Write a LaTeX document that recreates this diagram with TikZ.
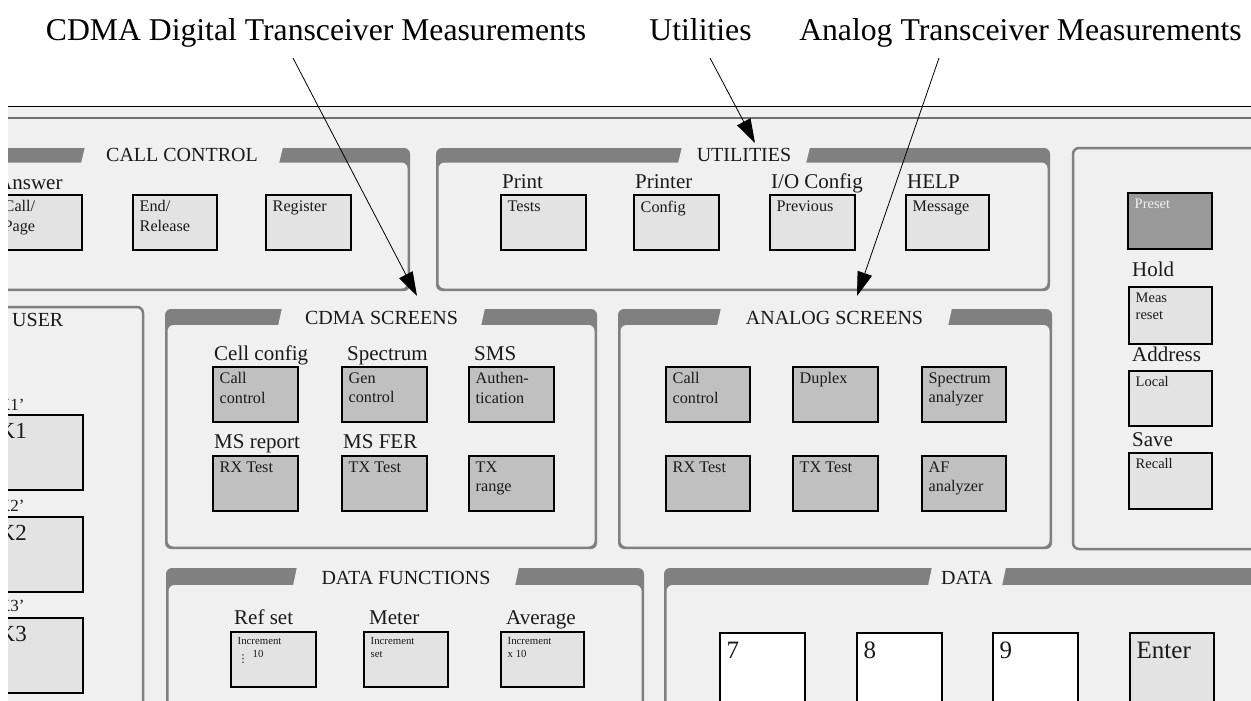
\documentclass[tikz,border=0pt]{standalone}
\usepackage{fontspec}
\setmainfont{Liberation Serif}
\newfontfamily\dejavu{DejaVu Sans}
\usetikzlibrary{arrows.meta}
\definecolor{bg}{HTML}{F0F0F0}
\definecolor{edge}{HTML}{808080}
\definecolor{rule2}{HTML}{707070}
\definecolor{keylt}{HTML}{E3E3E3}
\definecolor{keymd}{HTML}{C0C0C0}
\definecolor{keydk}{HTML}{999999}
\definecolor{ink}{HTML}{1A1A1A}
\newcommand\fTop{\fontsize{31.7}{36}\selectfont}
\newcommand\fTitle{\fontsize{20}{24}\selectfont}
\newcommand\fLab{\fontsize{21}{25}\selectfont}
\newcommand\fKey{\fontsize{16.2}{19.5}\selectfont}
\newcommand\fSm{\fontsize{14.5}{17}\selectfont}
\newcommand\fTiny{\fontsize{10.8}{13}\selectfont}
\newcommand\fBig{\fontsize{25}{30}\selectfont}
\newcommand\fKk{\fontsize{23}{27}\selectfont}
\newcommand\fKs{\fontsize{17}{20}\selectfont}
% key box: name, x, y, w, h, box style, text style, text
\newcommand\kbox[8]{%
  \node[keyframe, minimum width=#4pt, minimum height=#5pt, anchor=north west, #6] (#1) at (#2,#3) {};
  \node[keytext, #7] (#1t) at ([xshift=6.5pt,yshift=-5.5pt]#1.north west) {#8};
}
% tabbed panel: name, x1, x2, top, tabbottom, bottom, gapL, gapR, title
\newcommand\tabpanel[9]{%
  \fill[edge, rounded corners=6pt] (#2,#4) rectangle (#3,#6);
  \fill[bg, rounded corners=6pt] ({#2+2.5},#5) rectangle ({#3-2.5},{#6-2.5});
  \fill[bg] ({#7+2},{#4-1}) -- ({#8+2},{#4-1}) -- ({#8-2},{#5+1}) -- ({#7-2},{#5+1}) -- cycle;
  \node[ttl] (#1) at ({(#7+#8)/2},{#5-1}) {#9};
}
\tikzset{
  keyframe/.style={draw=black, line width=2.2pt, inner sep=0pt, outer sep=0pt, fill=keylt},
  keytext/.style={anchor=north west, inner sep=0pt, align=left, text=ink, font=\fKey},
  ttl/.style={anchor=base, inner sep=0pt, font=\fTitle, text=ink},
  lab/.style={anchor=base west, inner sep=0pt, font=\fLab, text=ink},
  toplab/.style={anchor=base, inner sep=0pt, font=\fTop, text=black},
  ptr/.style={draw=black, line width=0.8pt, -{Triangle[length=24pt,width=15pt]}},
  pline/.style={draw=edge, line width=2.5pt, rounded corners=6pt}
}
\begin{document}
\begin{tikzpicture}[x=1pt,y=-1pt]
\useasboundingbox (0,0) rectangle (1251,701);
\fill[white] (0,0) rectangle (1251,701);
% front panel background
\fill[bg] (8,106) rectangle (1251,701);
\begin{scope}
\clip (8,106) rectangle (1251,701);
% ---------- CALL CONTROL ----------
\tabpanel{tcall}{-30}{410}{148}{162.5}{291}{83}{281}{CALL CONTROL}
\node[lab] (lanswer) at (-3,189) {Answer};
\kbox{ccall}{-3}{195}{85}{55}{}{}{Call/\\Page}
\kbox{cend}{133}{195}{84}{55}{}{}{End/\\Release}
\kbox{creg}{266}{195}{85}{55}{}{}{Register}
% ---------- UTILITIES ----------
\tabpanel{tutil}{436}{1050}{148}{162.5}{291}{680}{808}{UTILITIES}
\node[lab] (lprint) at (502,188.5) {Print};
\node[lab] (lprinter) at (635,188.5) {Printer};
\node[lab] (lio) at (771,188.5) {I/O Config};
\node[lab] (lhelp) at (907,188.5) {HELP};
\kbox{utests}{501}{195}{85}{55}{}{}{Tests}
\kbox{uconfig}{634}{195}{85}{55}{}{}{Config}
\kbox{uprev}{770}{195}{85}{55}{}{}{Previous}
\kbox{umsg}{906}{195}{83}{55}{}{}{Message}
% ---------- right panel ----------
\draw[pline] (1290,148) -- (1073,148) -- (1073,549) -- (1290,549);
\kbox{rpreset}{1128}{193}{84}{56}{fill=keydk}{font=\fSm, text=bg}{Preset}
\node[lab] (lhold) at (1132,276) {Hold};
\kbox{rmeas}{1129}{287}{83}{57}{}{font=\fSm}{Meas\\reset}
\node[lab] (laddr) at (1132,361) {Address};
\kbox{rlocal}{1129}{371}{83}{55}{}{font=\fSm}{Local}
\node[lab] (lsave) at (1132,446.5) {Save};
\kbox{rrecall}{1129}{453}{83}{56}{}{font=\fSm}{Recall}
% ---------- USER panel ----------
\draw[pline] (-30,307) -- (143,307) -- (143,760);
\node[lab, font=\fTitle] (luser) at (12,326.5) {USER};
\node[lab, font=\fKs] (lk1) at (-2,410) {K1'};
\kbox{uk1}{-8}{415}{91}{75}{}{font=\fKk, yshift=-3pt}{K1}
\node[lab, font=\fKs] (lk2) at (-2,511) {K2'};
\kbox{uk2}{-8}{517}{91}{75}{}{font=\fKk, yshift=-3pt}{K2}
\node[lab, font=\fKs] (lk3) at (-2,611.5) {K3'};
\kbox{uk3}{-8}{618}{91}{75}{}{font=\fKk, yshift=-3pt}{K3}
% ---------- CDMA SCREENS ----------
\tabpanel{tcdma}{165}{597}{309}{325}{549}{280}{483}{CDMA SCREENS}
\node[lab] (lcell) at (214,360.7) {Cell config};
\node[lab] (lspec) at (347,360.7) {Spectrum};
\node[lab] (lsms) at (474,360.7) {SMS};
\node[lab] (lmsr) at (214,448.3) {MS report};
\node[lab] (lmsf) at (343,448.3) {MS FER};
\kbox{ccallc}{213}{367}{85}{55}{fill=keymd}{}{Call\\control}
\kbox{cgen}{342}{367}{85}{55}{fill=keymd}{}{Gen\\control}
\kbox{cauth}{469}{367}{85}{55}{fill=keymd}{}{Authen-\\tication}
\kbox{crx}{213}{456}{85}{55}{fill=keymd}{}{RX Test}
\kbox{ctx}{342}{456}{85}{55}{fill=keymd}{}{TX Test}
\kbox{crange}{469}{456}{85}{55}{fill=keymd}{}{TX\\range}
% ---------- ANALOG SCREENS ----------
\tabpanel{tana}{618}{1052}{309}{325}{549}{719}{950}{ANALOG SCREENS}
\kbox{acall}{666}{367}{84}{55}{fill=keymd}{}{Call\\control}
\kbox{adup}{793}{367}{85}{55}{fill=keymd}{}{Duplex}
\kbox{aspec}{922}{367}{84}{55}{fill=keymd}{}{Spectrum\\analyzer}
\kbox{arx}{666}{456}{84}{55}{fill=keymd}{}{RX Test}
\kbox{atx}{793}{456}{85}{55}{fill=keymd}{}{TX Test}
\kbox{aaf}{922}{456}{84}{55}{fill=keymd}{}{AF\\analyzer}
% ---------- DATA FUNCTIONS ----------
\tabpanel{tdf}{166}{644}{568}{585}{760}{295}{517}{DATA FUNCTIONS}
\node[lab] (lref) at (234,624) {Ref set};
\node[lab] (lmeter) at (369,624) {Meter};
\node[lab] (lavg) at (506,624) {Average};
\kbox{dref}{231}{632}{85}{55}{}{font=\fTiny}{Increment\\\raisebox{-5pt}{\dejavu\fontsize{11}{11}\selectfont ⋮}\hspace{4pt}10}
\kbox{dmeter}{364}{632}{84}{55}{}{font=\fTiny}{Increment\\set}
\kbox{davg}{501}{632}{83}{55}{}{font=\fTiny}{Increment\\x 10}
% ---------- DATA ----------
\tabpanel{tdata}{664}{1290}{568}{585}{760}{930}{1004}{DATA}
\kbox{k7}{720}{633}{85}{80}{fill=white}{font=\fBig, yshift=-3pt}{7}
\kbox{k8}{857}{633}{85}{80}{fill=white}{font=\fBig, yshift=-3pt}{8}
\kbox{k9}{993}{633}{85}{80}{fill=white}{font=\fBig, yshift=-3pt}{9}
\kbox{kent}{1130}{633}{84}{80}{}{font=\fBig, yshift=-3pt}{Enter}
\end{scope}
% frame lines
\draw[black, line width=1pt] (8,106) -- (1251,106);
\draw[rule2, line width=1.5pt] (8,118) -- (1251,118);
% top labels and arrows
\node[toplab] (lcdma) at (316,41) {CDMA Digital Transceiver Measurements};
\node[toplab] (lutil) at (700.5,41) {Utilities};
\node[toplab] (lana) at (1020.5,41) {Analog Transceiver Measurements};
\coordinate (cdmaS) at (293,58);
\coordinate (cdmaT) at (417,296);
\coordinate (utilS) at (710,58);
\coordinate (utilT) at (755,143);
\coordinate (anaS) at (939,58);
\coordinate (anaT) at (857,296);
\draw[ptr] (cdmaS) -- (cdmaT);
\draw[ptr] (utilS) -- (utilT);
\draw[ptr] (anaS) -- (anaT);
\end{tikzpicture}
\end{document}
